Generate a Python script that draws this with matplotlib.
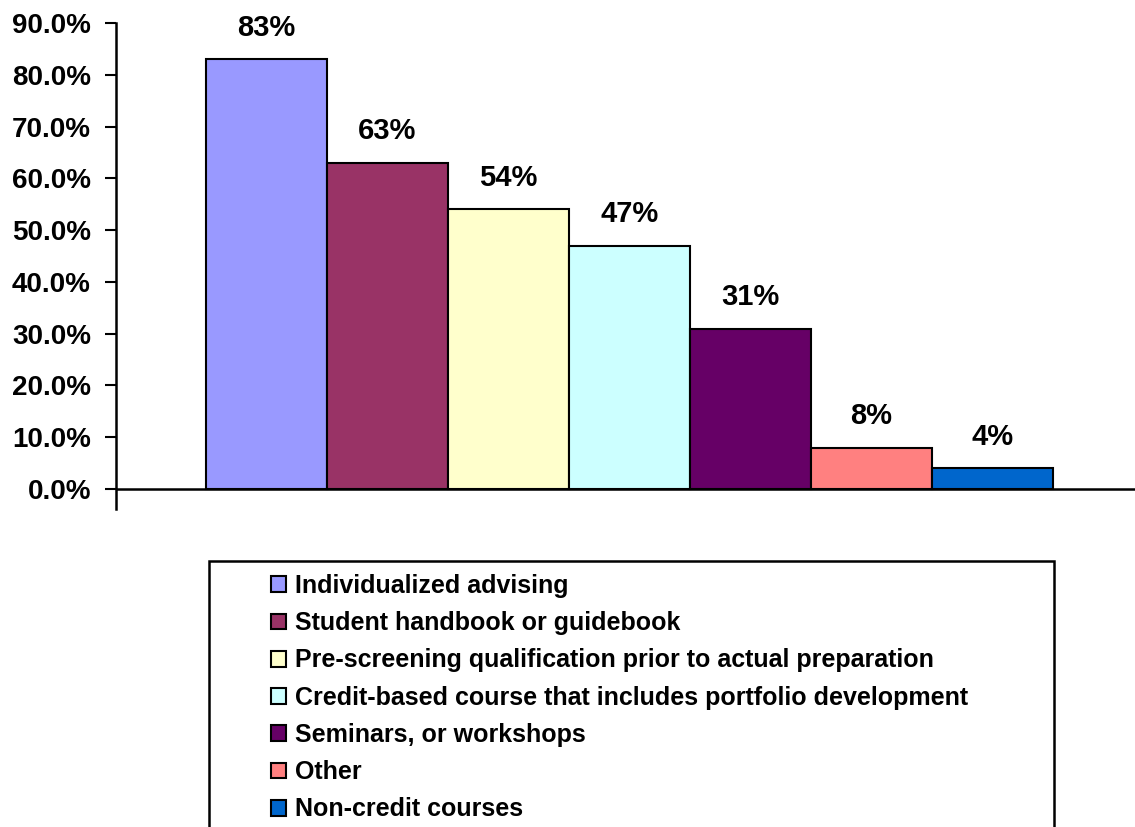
import matplotlib.pyplot as plt
from matplotlib.patches import Rectangle

# datos
categorias = [
    "Individualized advising",
    "Student handbook or guidebook",
    "Pre-screening qualification prior to actual preparation",
    "Credit-based course that includes portfolio development",
    "Seminars, or workshops",
    "Other",
    "Non-credit courses",
]
valores = [83, 63, 54, 47, 31, 8, 4]
etiquetas = ["83%", "63%", "54%", "47%", "31%", "8%", "4%"]
colores = ["#9999FF", "#993366", "#FFFFCC", "#CCFFFF", "#660066", "#FF8080", "#0066CC"]
ticks_y = [0, 10, 20, 30, 40, 50, 60, 70, 80, 90]

plt.rcParams['font.family'] = ['Liberation Sans', 'DejaVu Sans']
plt.rcParams['font.weight'] = 'bold'

fig = plt.figure(figsize=(11.35, 8.27), dpi=100)
ax = fig.add_axes([0.1022, 0.3845, 0.9049, 0.5877])

barras = []
for i, (v, c, lab) in enumerate(zip(valores, colores, categorias)):
    b = ax.bar(i, v, width=1.0, color=c, edgecolor='black', linewidth=1.5, label=lab)
    barras.append(b[0])
    ax.text(i, v + 3.4, etiquetas[i], ha='center', va='bottom', fontsize=21, fontweight='bold')

ax.set_xlim(-1.244, 7.244)
ax.set_ylim(-3.86, 90)
ax.axhline(0, color='black', linewidth=1.8, zorder=0)
ax.set_yticks(ticks_y)
ax.set_yticklabels([f"{t:.1f}%" for t in ticks_y], fontsize=20, fontweight='bold')
ax.tick_params(axis='y', direction='out', length=8, width=1.5, pad=10)
ax.tick_params(axis='x', bottom=False, labelbottom=False)
for s in ['top', 'right', 'bottom']:
    ax.spines[s].set_visible(False)
ax.spines['left'].set_linewidth(1.8)

# marco de la leyenda (se corta por abajo como en el original)
x0, x1 = 209 / 1135, 1054 / 1135
y0 = 1 - 561 / 827
fig.patches.append(Rectangle((x0, -0.05), x1 - x0, y0 + 0.05, transform=fig.transFigure,
                             fill=False, edgecolor='black', linewidth=1.8))

fig.legend(handles=barras, labels=categorias, loc='upper left',
           bbox_to_anchor=(256 / 1135, 1 - 559 / 827), frameon=False,
           handlelength=0.6, handleheight=0.6, handletextpad=0.35,
           labelspacing=0.53, borderpad=0.1,
           prop={'weight': 'bold', 'size': 18})

plt.savefig('out.png', dpi=100)
